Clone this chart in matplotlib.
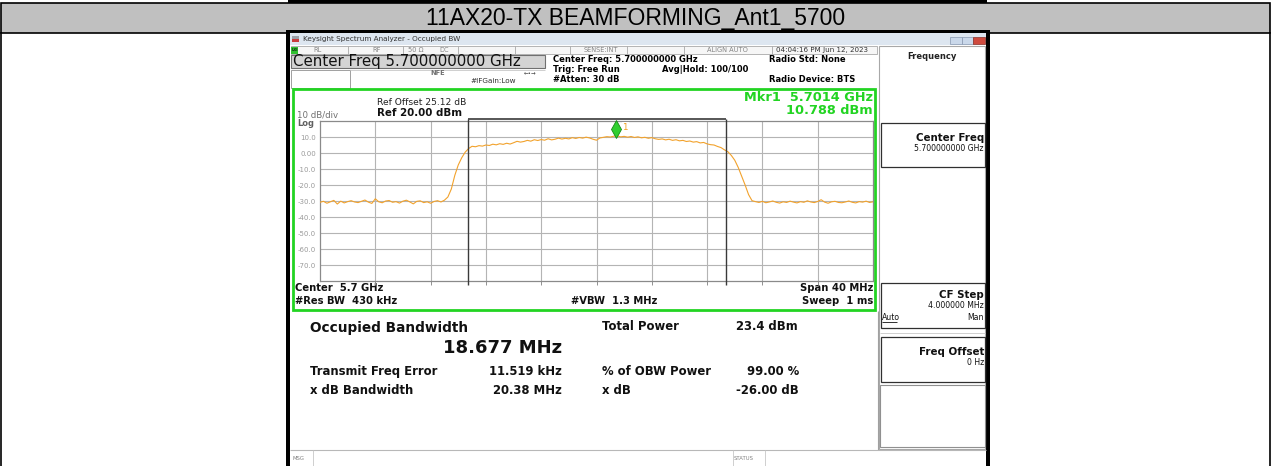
import matplotlib
matplotlib.use("Agg")
import matplotlib.pyplot as plt
from matplotlib.patches import Rectangle
from matplotlib.transforms import ScaledTranslation
import numpy as np

plt.rcParams['font.family'] = ['DejaVu Sans']

# ---- data ----
title = "11AX20-TX BEAMFORMING_Ant1_5700"

center_ghz = 5.7
span_mhz = 40.0
ref_level = 20.0
db_per_div = 10.0
ref_offset_db = 25.12
y_levels = [10, 0, -10, -20, -30, -40, -50, -60, -70]
y_labels = ["10.0", "0.00", "-10.0", "-20.0", "-30.0", "-40.0", "-50.0", "-60.0", "-70.0"]

# trace in dBm, one point every 0.25 MHz from -20 MHz to +20 MHz
trace_dbm = [
    -30.8, -30.2, -31.4, -30.5, -29.6, -31.9, -30.1, -31.2, -30.4, -29.8,
    -30.6, -31.0, -30.2, -29.4, -30.7, -31.5, -28.6, -30.5, -31.1, -30.0,
    -29.7, -30.8, -30.4, -31.3, -30.1, -29.5, -30.6, -31.8, -30.2, -29.9,
    -31.0, -30.5, -31.4, -30.3, -29.8, -30.6,
    -29.5, -27.5, -22.5, -14.0, -7.5, -3.0, 0.5, 2.8,
    4.2, 3.9, 4.6, 4.3, 5.0, 4.7, 5.5, 5.1, 5.8, 5.4,
    6.1, 5.6, 6.4, 7.3, 6.8, 7.2, 7.9, 7.4, 8.3, 7.8,
    8.4, 8.0, 8.9, 8.2, 8.6, 9.3, 8.7, 9.2, 8.8, 9.6,
    9.1, 9.7, 9.3, 9.9, 9.4, 8.6, 8.0, 9.4, 9.8, 10.2,
    10.0, 10.5, 10.7, 10.1, 10.4, 9.9, 10.3, 9.7, 10.1, 9.5,
    9.8, 9.2, 9.6, 8.9, 8.5, 8.8, 8.2, 8.6, 7.9, 8.3,
    7.6, 7.9, 7.2, 7.5, 6.8, 7.1, 6.3, 6.6, 5.7, 5.2,
    5.0, 4.1, 3.4,
    2.0, 0.8, -1.5, -4.5, -9.0, -14.5, -20.0, -26.0, -29.8,
    -30.4, -30.9, -30.2, -31.1, -30.6, -30.0, -30.8, -31.3, -30.5, -30.9,
    -30.1, -30.7, -31.2, -30.4, -30.8, -29.9, -30.6, -31.0, -30.3, -29.2,
    -30.7, -31.4, -30.5, -30.2, -30.9, -31.1, -30.6, -30.0, -30.8, -31.2,
    -30.4, -30.7, -30.1, -30.9, -30.5,
]

mkr_freq_ghz = 5.7014
mkr_level = 10.788
obw_mhz = 18.677
freq_err_khz = 11.519
xdb_bw_mhz = 20.38
total_power = 23.4
obw_pct = 99.00
x_db = -26.00
rbw = "430 kHz"
vbw = "1.3 MHz"
sweep = "1 ms"
atten_db = 30
cf_step_mhz = 4.0

W, H = 1271, 466
fig = plt.figure(figsize=(W / 100, H / 100), dpi=100)
bg = fig.add_axes([0, 0, 1, 1])
bg.set_xlim(0, W)
bg.set_ylim(H, 0)
bg.axis('off')


def box(x0, y0, x1, y1, fc='none', ec='none', lw=1.0, z=1):
    bg.add_patch(Rectangle((x0, y0), x1 - x0, y1 - y0, facecolor=fc,
                           edgecolor=ec, linewidth=lw, zorder=z))


def txt(x, y, s, size, ha='left', weight='normal', color='black', **kw):
    bg.text(x, y, s, fontsize=size, ha=ha, va='center', fontweight=weight,
            color=color, zorder=10, **kw)


def line(xs, ys, color='#a0a0a0', lw=0.8, z=3):
    bg.plot(xs, ys, color=color, lw=lw, zorder=z, solid_capstyle='butt')


# table header row
box(288, 0, 987, 2.5, fc='black', z=2)
box(0.6, 3, 1270.4, 32.5, fc='#c0c0c0', ec='black', lw=1.2)
line([0.6, 0.6], [32, H], color='black', lw=1.2)
line([1270.4, 1270.4], [32, H], color='black', lw=1.2)
bg.text(636, 18, title, fontsize=16.5, ha='center', va='center', color='black',
        family=['Liberation Sans', 'DejaVu Sans'], zorder=10)

# screenshot frame
box(285.5, 30, 989.5, H, fc='black', z=1)
box(290, 33, 986, 45, fc='#dde6f0', z=2)
box(292, 36, 299, 39, fc='#9aa0a8', z=3)
box(292, 39, 299, 42, fc='#c83c3c', z=3)
txt(303, 39, "Keysight Spectrum Analyzer - Occupied BW", 5.2, color='#303030')
box(950, 37, 962, 43.5, fc='#cad8ea', ec='#8898b0', lw=0.5, z=3)
box(962, 37, 973, 43.5, fc='#cad8ea', ec='#8898b0', lw=0.5, z=3)
box(973, 37, 985, 43.5, fc='#cf4a3e', ec='#8a3028', lw=0.5, z=3)
box(290, 45, 986, H, fc='white', z=2)

# status row
box(290.5, 46, 877, 54, fc='#f6f6f6', ec='#a8a8a8', lw=0.6, z=3)
for xd in [348, 403, 458, 515, 570, 627, 684, 772]:
    line([xd, xd], [46, 54], color='#a8a8a8', lw=0.6, z=4)
box(291, 46.5, 298, 53.5, fc='#30c030', z=4)
txt(291.5, 50, "LXI", 2.6, weight='bold', color='#103010')
for xs, s in [(313, "RL"), (372, "RF"), (408, "50 \u03a9"), (439, "DC"),
              (584, "SENSE:INT"), (707, "ALIGN AUTO")]:
    txt(xs, 50, s, 4.8, color='#858585')
txt(776, 50, "04:04:16 PM Jun 12, 2023", 5.1, color='#303030')

# center freq header block
box(291, 55, 545, 67.5, fc='#d4d4d4', ec='#707070', lw=0.8, z=3)
txt(293, 61.5, "Center Freq %.9f GHz" % center_ghz, 10.8, color='#111111')
box(291, 69.5, 350, 87.5, fc='white', ec='#909090', lw=0.6, z=3)
line([350, 545], [69.5, 69.5], color='#c8c8c8', lw=0.6)
txt(438, 73, "NFE", 4.8, ha='center', weight='bold', color='#707070')
txt(530, 72.7, "\u2190\u2022\u2192", 4.0, ha='center', color='#404040')
txt(470, 81, "#IFGain:Low", 5.2, color='#303030')
txt(553, 60, "Center Freq: %.9f GHz" % center_ghz, 6, weight='bold')
txt(553, 69.7, "Trig: Free Run", 6, weight='bold')
txt(553, 79.5, "#Atten: %d dB" % atten_db, 6, weight='bold')
txt(662, 70, "Avg|Hold: 100/100", 6, weight='bold')
txt(769, 60, "Radio Std: None", 6, weight='bold')
txt(769, 80, "Radio Device: BTS", 6, weight='bold')

# green graticule frame
green = '#22d422'
box(292.5, 89, 875, 310, fc='white', ec=green, lw=2, z=3)
txt(377, 102.3, "Ref Offset %.2f dB" % ref_offset_db, 6.6, color='#222222')
txt(377, 113.3, "Ref %.2f dBm" % ref_level, 7.4, weight='bold', color='#111111')
txt(297, 114.5, "%d dB/div" % db_per_div, 6.2, color='#707070')
txt(297, 124, "Log", 6.0, weight='bold', color='#606060')
txt(873, 97.5, "Mkr1  %.4f GHz" % mkr_freq_ghz, 9.3, ha='right', weight='bold', color=green)
txt(873, 110, "%.3f dBm" % mkr_level, 9.3, ha='right', weight='bold', color=green)
txt(295, 288, "Center  %.1f GHz" % center_ghz, 7.2, weight='bold', color='#111111')
txt(295, 301.5, "#Res BW  " + rbw, 7.2, weight='bold', color='#111111')
txt(571, 301.5, "#VBW  " + vbw, 7.2, weight='bold', color='#111111')
txt(873, 288, "Span %d MHz" % span_mhz, 7.2, ha='right', weight='bold', color='#111111')
txt(873, 301.5, "Sweep  " + sweep, 7.2, ha='right', weight='bold', color='#111111')

# measurement results
mc = '#111111'
txt(310, 328.3, "Occupied Bandwidth", 9.8, weight='bold', color=mc)
txt(562, 348.3, "%.3f MHz" % obw_mhz, 13, ha='right', weight='bold', color=mc)
txt(310, 371.7, "Transmit Freq Error", 8.4, weight='bold', color=mc)
txt(562, 371.7, "%.3f kHz" % freq_err_khz, 8.4, ha='right', weight='bold', color=mc)
txt(310, 390.7, "x dB Bandwidth", 8.4, weight='bold', color=mc)
txt(562, 390.7, "%.2f MHz" % xdb_bw_mhz, 8.4, ha='right', weight='bold', color=mc)
txt(602, 326, "Total Power", 8.4, weight='bold', color=mc)
txt(736, 326, "%.1f dBm" % total_power, 8.4, weight='bold', color=mc)
txt(602, 371.7, "% of OBW Power", 8.4, weight='bold', color=mc)
txt(799, 371.7, "%.2f %%" % obw_pct, 8.4, ha='right', weight='bold', color=mc)
txt(602, 390.7, "x dB", 8.4, weight='bold', color=mc)
txt(799, 390.7, "%.2f dB" % x_db, 8.4, ha='right', weight='bold', color=mc)
line([878, 878], [311, 450], color='#a0a0a0', lw=0.8)

# message bar
line([290, 986], [450, 450], color='#b8b8b8', lw=0.8)
for xd in [312.5, 733, 765]:
    line([xd, xd], [450, H], color='#c8c8c8', lw=0.6)
txt(292.5, 458, "MSG", 3.8, color='#808080')
txt(734, 458, "STATUS", 3.8, color='#808080')

# softkey panel
box(879, 46, 985, 449, fc='white', ec='#a8a8a8', lw=0.8, z=3)
txt(932, 56.7, "Frequency", 6.0, ha='center', weight='bold', color='#222222')
box(881, 122.7, 985, 167.3, fc='white', ec='#303030', lw=0.9, z=4)
txt(984, 138.3, "Center Freq", 7.4, ha='right', weight='bold', color='#111111')
txt(984, 148.5, "%.9f GHz" % center_ghz, 5.6, ha='right', color='#111111')
box(881, 283, 985, 328, fc='white', ec='#303030', lw=0.9, z=4)
txt(984, 295, "CF Step", 7.4, ha='right', weight='bold', color='#111111')
txt(984, 305.5, "%.6f MHz" % cf_step_mhz, 5.6, ha='right', color='#111111')
txt(882, 317.7, "Auto", 5.6, color='#111111')
line([882, 897], [321.5, 321.5], color='#111111', lw=0.6, z=11)
txt(984, 317.7, "Man", 5.6, ha='right', color='#111111')
line([880, 985], [333, 333], color='#c8c8c8', lw=0.6, z=4)
box(881, 336.7, 985, 381.7, fc='white', ec='#303030', lw=0.9, z=4)
txt(984, 351.7, "Freq Offset", 7.4, ha='right', weight='bold', color='#111111')
txt(984, 362.7, "0 Hz", 5.6, ha='right', color='#111111')
box(880, 385, 985, 447, fc='white', ec='#909090', lw=0.8, z=4)

# ---- spectrum graticule ----
gx0, gx1, gy0, gy1 = 320, 873, 121, 281
ax = fig.add_axes([gx0 / W, 1 - gy1 / H, (gx1 - gx0) / W, (gy1 - gy0) / H])
ax.set_xlim(-span_mhz / 2, span_mhz / 2)
ax.set_ylim(ref_level - 10 * db_per_div, ref_level)
ax.set_xticks(np.arange(-16, 17, 4))
ax.set_xticklabels([])
ax.set_yticks(y_levels)
ax.set_yticklabels(y_labels)
ax.tick_params(axis='y', length=0, pad=3, labelsize=5, labelcolor='#9a9a9a')
ax.tick_params(axis='x', length=3, width=0.7, color='#909090', direction='out')
ax.grid(True, color='#b4b4b4', lw=0.8)
for sp in ax.spines.values():
    sp.set_color('#8a8a8a')
    sp.set_linewidth(0.9)

freq_mhz = np.linspace(-span_mhz / 2, span_mhz / 2, len(trace_dbm))
ax.plot(freq_mhz, trace_dbm, color='#f2a22c', lw=0.8, zorder=4)

# occupied bandwidth edges
obw_center = freq_err_khz / 1000.0
obw_lo, obw_hi = obw_center - obw_mhz / 2, obw_center + obw_mhz / 2
ax.vlines([obw_lo, obw_hi], -82.5, 21.5, colors='#3a3a3a', lw=1.0, clip_on=False, zorder=5)
ax.hlines(21.5, obw_lo, obw_hi, colors='#3a3a3a', lw=1.2, clip_on=False, zorder=5)

# marker 1
mk_x = (mkr_freq_ghz - center_ghz) * 1000
up = ScaledTranslation(0, 6.3 / 100, fig.dpi_scale_trans)
ax.plot(mk_x, mkr_level, marker='d', ms=9, mfc='#2fcf2f', mec='#148a14', mew=0.6,
        transform=ax.transData + up, clip_on=False, zorder=7)
ax.annotate('1', (mk_x, mkr_level), xytext=(4.8, 5.8), textcoords='offset points',
            fontsize=6.3, color='#f0a020', va='center', ha='left', zorder=7,
            bbox=dict(fc='white', ec='none', pad=0.6), annotation_clip=False)

fig.savefig('out.png', dpi=100)
